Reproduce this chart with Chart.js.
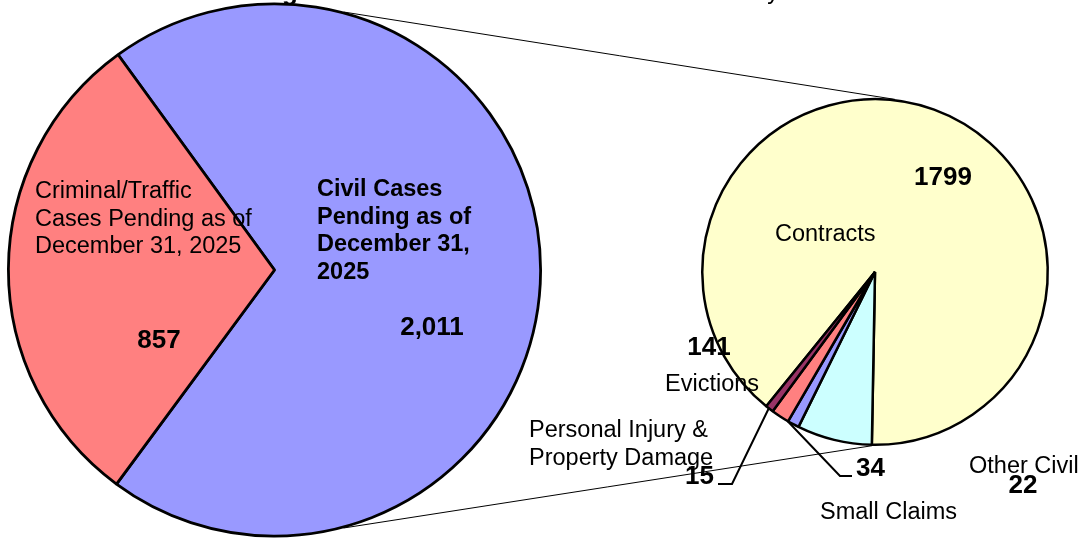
<!DOCTYPE html>
<html>
<head>
<meta charset="utf-8">
<script src="https://cdn.jsdelivr.net/npm/chart.js@4.4.1/dist/chart.umd.min.js"></script>
<style>
  html, body { margin: 0; padding: 0; background: #fff; }
  .wrap { position: relative; width: 1092px; height: 539px; overflow: hidden; }
  .wrap canvas { position: absolute; left: 0; top: 0; }
</style>
</head>
<body>
<div class="wrap">
  <canvas id="mainPie" width="1092" height="539"></canvas>
  <canvas id="civilPie" width="1092" height="539"></canvas>
</div>
<script>
// chart data
const mainCategories = ['Civil Cases Pending as of December 31, 2025', 'Criminal/Traffic Cases Pending as of December 31, 2025'];
const mainValues = [2011, 857];
const civilCategories = ['Contracts', 'Evictions', 'Other Civil', 'Small Claims', 'Personal Injury & Property Damage'];
const civilValues = [1799, 141, 22, 34, 15];
const titles = ['Total Pending', 'Civil Inventory'];

// styles
const mainColors = ['#9999FF', '#FF8080'];
const civilColors = ['#FFFFCC', '#CCFFFF', '#9999FF', '#FF8080', '#993366'];
const FONT = '"Liberation Sans", Arial, sans-serif';
const FS = 23.5;   // category names
const VS = 26;     // value numbers
const LH = 27.5;

function drawText(ctx, lines, x, y, bold, align, size) {
  ctx.save();
  ctx.font = (bold ? 'bold ' : '') + (size || FS) + 'px ' + FONT;
  ctx.fillStyle = '#000';
  ctx.textAlign = align || 'left';
  ctx.textBaseline = 'alphabetic';
  lines.forEach((l, i) => ctx.fillText(l, x, y + i * LH));
  ctx.restore();
}

// split long names into the wrapped lines seen in the picture
function wrap(text, widths) {
  const words = text.split(' ');
  const out = [];
  let i = 0;
  widths.forEach(n => { out.push(words.slice(i, i + n).join(' ')); i += n; });
  if (i < words.length) out.push(words.slice(i).join(' '));
  return out;
}

// point on a pie's rim, angle in degrees clockwise from top
function rim(arc, deg, r) {
  const a = (deg - 90) * Math.PI / 180;
  const rr = r || arc.outerRadius;
  return { x: arc.x + rr * Math.cos(a), y: arc.y + rr * Math.sin(a) };
}

// left pie labels
const mainLabels = {
  id: 'mainLabels',
  afterDraw(chart) {
    const ctx = chart.ctx;
    // titles sit above the plot, only their descenders show
    drawText(ctx, [titles[0]], 298, 0, true, 'right', VS);
    drawText(ctx, [titles[1]], 779, -1, false, 'right');

    drawText(ctx, wrap(mainCategories[0], [2, 3, 2]), 317, 196, true);
    drawText(ctx, [mainValues[0].toLocaleString('en-US')], 432, 335, true, 'center', VS);
    drawText(ctx, wrap(mainCategories[1], [1, 4]), 35, 198, false);
    drawText(ctx, [mainValues[1].toLocaleString('en-US')], 159, 348, true, 'center', VS);
  }
};

const mainChart = new Chart(document.getElementById('mainPie'), {
  type: 'pie',
  data: {
    labels: mainCategories,
    datasets: [{
      data: mainValues,
      backgroundColor: mainColors,
      borderColor: '#000',
      borderWidth: 2.8
    }]
  },
  options: {
    responsive: false,
    animation: false,
    events: [],
    rotation: -36,
    layout: { padding: { left: 7, top: 2, right: 550, bottom: 1 } },
    plugins: { legend: { display: false }, tooltip: { enabled: false } }
  },
  plugins: [mainLabels]
});

// right pie labels, leader lines and the lines joining both pies
const civilLabels = {
  id: 'civilLabels',
  afterDraw(chart) {
    const ctx = chart.ctx;
    const big = mainChart.getDatasetMeta(0).data[0];
    const arcs = chart.getDatasetMeta(0).data;
    const small = arcs[0];

    ctx.save();
    ctx.strokeStyle = '#000';
    ctx.lineWidth = 1;
    [[15, 6.6], [165, 181]].forEach(([a, b]) => {
      const p = rim(big, a, big.outerRadius + 1);
      const q = rim(small, b, small.outerRadius + 1);
      ctx.beginPath();
      ctx.moveTo(p.x, p.y);
      ctx.lineTo(q.x, q.y);
      ctx.stroke();
    });

    // leader lines: elbow then to a point on the slice rim
    ctx.lineWidth = 2;
    [[4, 0.6, [[718, 484], [732, 484]]], [3, 0.05, [[852, 476], [840, 476]]]].forEach(([i, f, pts]) => {
      const el = arcs[i];
      const ang = el.startAngle + f * (el.endAngle - el.startAngle);
      ctx.beginPath();
      ctx.moveTo(pts[0][0], pts[0][1]);
      ctx.lineTo(pts[1][0], pts[1][1]);
      ctx.lineTo(el.x + el.outerRadius * Math.cos(ang), el.y + el.outerRadius * Math.sin(ang));
      ctx.stroke();
    });
    ctx.restore();

    drawText(ctx, [String(civilValues[0])], 943, 185, true, 'center', VS);
    drawText(ctx, [civilCategories[0]], 775, 241, false);
    drawText(ctx, [String(civilValues[1])], 709, 355, true, 'center', VS);
    drawText(ctx, [civilCategories[1]], 665, 391, false);
    drawText(ctx, wrap(civilCategories[4], [3]), 529, 437, false);
    drawText(ctx, [String(civilValues[4])], 714, 484, true, 'right', VS);
    drawText(ctx, [String(civilValues[3])], 856, 476, true, 'left', VS);
    drawText(ctx, [civilCategories[3]], 820, 519, false);
    drawText(ctx, [civilCategories[2]], 969, 473, false);
    drawText(ctx, [String(civilValues[2])], 1023, 493, true, 'center', VS);
  }
};

const civilChart = new Chart(document.getElementById('civilPie'), {
  type: 'pie',
  data: {
    labels: civilCategories,
    datasets: [{
      data: civilValues,
      backgroundColor: civilColors,
      borderColor: '#000',
      borderWidth: 2.5
    }]
  },
  options: {
    responsive: false,
    animation: false,
    events: [],
    rotation: 219,
    layout: { padding: { left: 701, top: 98, right: 43, bottom: 93 } },
    plugins: { legend: { display: false }, tooltip: { enabled: false } }
  },
  plugins: [civilLabels]
});
</script>
</body>
</html>
